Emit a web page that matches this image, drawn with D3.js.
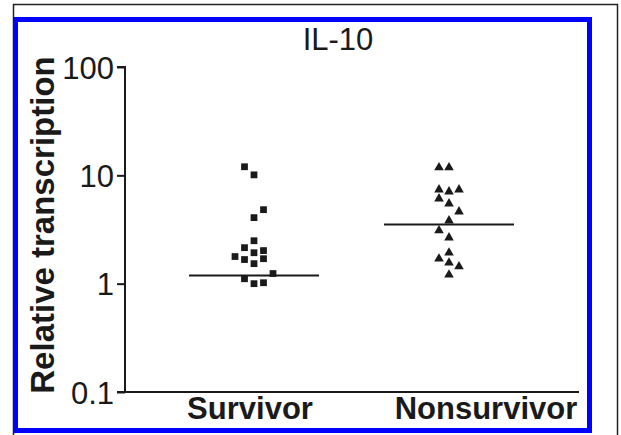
<!DOCTYPE html>
<html>
<head>
<meta charset="utf-8">
<script src="https://cdn.jsdelivr.net/npm/d3@7"></script>
<style>
  html, body { margin: 0; padding: 0; background: #fff; }
  svg { display: block; }
  text { font-family: Arial, "Liberation Sans", sans-serif; fill: #1a1a1a; }
</style>
</head>
<body>
<svg id="chart" width="621" height="435"></svg>
<script>
// ---- data ----
const categories = ["Survivor", "Nonsurvivor"];
const survivorValues = [12.0, 10.1, 4.82, 4.07, 2.49, 2.15, 2.02, 1.93, 1.78, 1.67, 1.70, 1.53, 1.24, 1.11, 1.0, 1.02];
const survivorColumns = [-1, 0, 1, 0, 0, -1, 1, 0, -2, -1, 1, 0, 2, -1, 0, 1];
const nonsurvivorValues = [11.8, 11.8, 7.38, 7.07, 7.38, 6.09, 5.48, 4.62, 3.82, 3.09, 2.66, 1.93, 1.70, 1.56, 1.44, 1.21];
const nonsurvivorColumns = [-1, 0, -1, 0, 1, -1, 0, 1, 0, -1, 0, 0, -1, 0, 1, 0];
const medianValues = [1.19, 3.51];
const yTicks = [0.1, 1, 10, 100];
const yTickLabels = ["0.1", "1", "10", "100"];
const title = "IL-10";
const yLabel = "Relative transcription";

// ---- layout ----
const svg = d3.select("#chart");
const ink = "#1a1a1a";

// frames
svg.append("rect").attr("x", 13.5).attr("y", 4.5).attr("width", 604).attr("height", 440)
  .attr("fill", "none").attr("stroke", "#222").attr("stroke-width", 1.5);
svg.append("rect").attr("x", 15.5).attr("y", 19.5).attr("width", 574).attr("height", 411)
  .attr("fill", "#fff").attr("stroke", "#0000ff").attr("stroke-width", 5);

const y = d3.scaleLog().domain([0.1, 100]).range([392, 67]);
const x = d3.scalePoint().domain(categories).range([254, 449]);
const colStep = 9.5;

// y axis
const yAxis = d3.axisLeft(y).tickValues(yTicks).tickSize(8).tickPadding(3)
  .tickFormat((d, i) => yTickLabels[i]);
const gy = svg.append("g").attr("transform", "translate(125,0)").call(yAxis);
gy.select(".domain").attr("stroke", ink).attr("stroke-width", 2).attr("d", "M-8,67H0V392H-8");
gy.selectAll(".tick line").attr("stroke", ink).attr("stroke-width", 2);
gy.selectAll(".tick text").attr("font-size", 31).attr("fill", ink)
  .attr("font-family", "Arial, 'Liberation Sans', sans-serif").attr("dy", "0.36em");

// x axis line
svg.append("line").attr("x1", 124).attr("x2", 579).attr("y1", 392).attr("y2", 392)
  .attr("stroke", ink).attr("stroke-width", 2);

// category labels
const labelShift = { "Survivor": -4, "Nonsurvivor": 37 };
svg.selectAll("text.cat").data(categories).enter().append("text")
  .attr("class", "cat")
  .attr("x", d => x(d) + labelShift[d]).attr("y", 419)
  .attr("text-anchor", "middle").attr("font-weight", "bold").attr("font-size", 31)
  .text(d => d);

// title
svg.append("text").attr("x", 338).attr("y", 50).attr("text-anchor", "middle")
  .attr("font-size", 31).text(title);

// y label
svg.append("text").attr("transform", "translate(54,225) rotate(-90)")
  .attr("text-anchor", "middle").attr("font-weight", "bold").attr("font-size", 33)
  .text(yLabel);

// medians
svg.selectAll("line.median").data(medianValues).enter().append("line")
  .attr("class", "median")
  .attr("x1", (d, i) => x(categories[i]) - 65).attr("x2", (d, i) => x(categories[i]) + 65)
  .attr("y1", d => y(d)).attr("y2", d => y(d))
  .attr("stroke", ink).attr("stroke-width", 2);

// survivor squares
const sq = d3.symbol().type(d3.symbolSquare).size(46);
svg.selectAll("path.surv").data(survivorValues).enter().append("path")
  .attr("class", "surv").attr("d", sq)
  .attr("transform", (d, i) => `translate(${x("Survivor") + survivorColumns[i] * colStep},${y(d)})`)
  .attr("fill", ink);

// nonsurvivor triangles
const tri = d3.symbol().type(d3.symbolTriangle).size(40);
svg.selectAll("path.non").data(nonsurvivorValues).enter().append("path")
  .attr("class", "non").attr("d", tri)
  .attr("transform", (d, i) => `translate(${x("Nonsurvivor") + nonsurvivorColumns[i] * 10},${y(d)})`)
  .attr("fill", ink);
</script>
</body>
</html>
